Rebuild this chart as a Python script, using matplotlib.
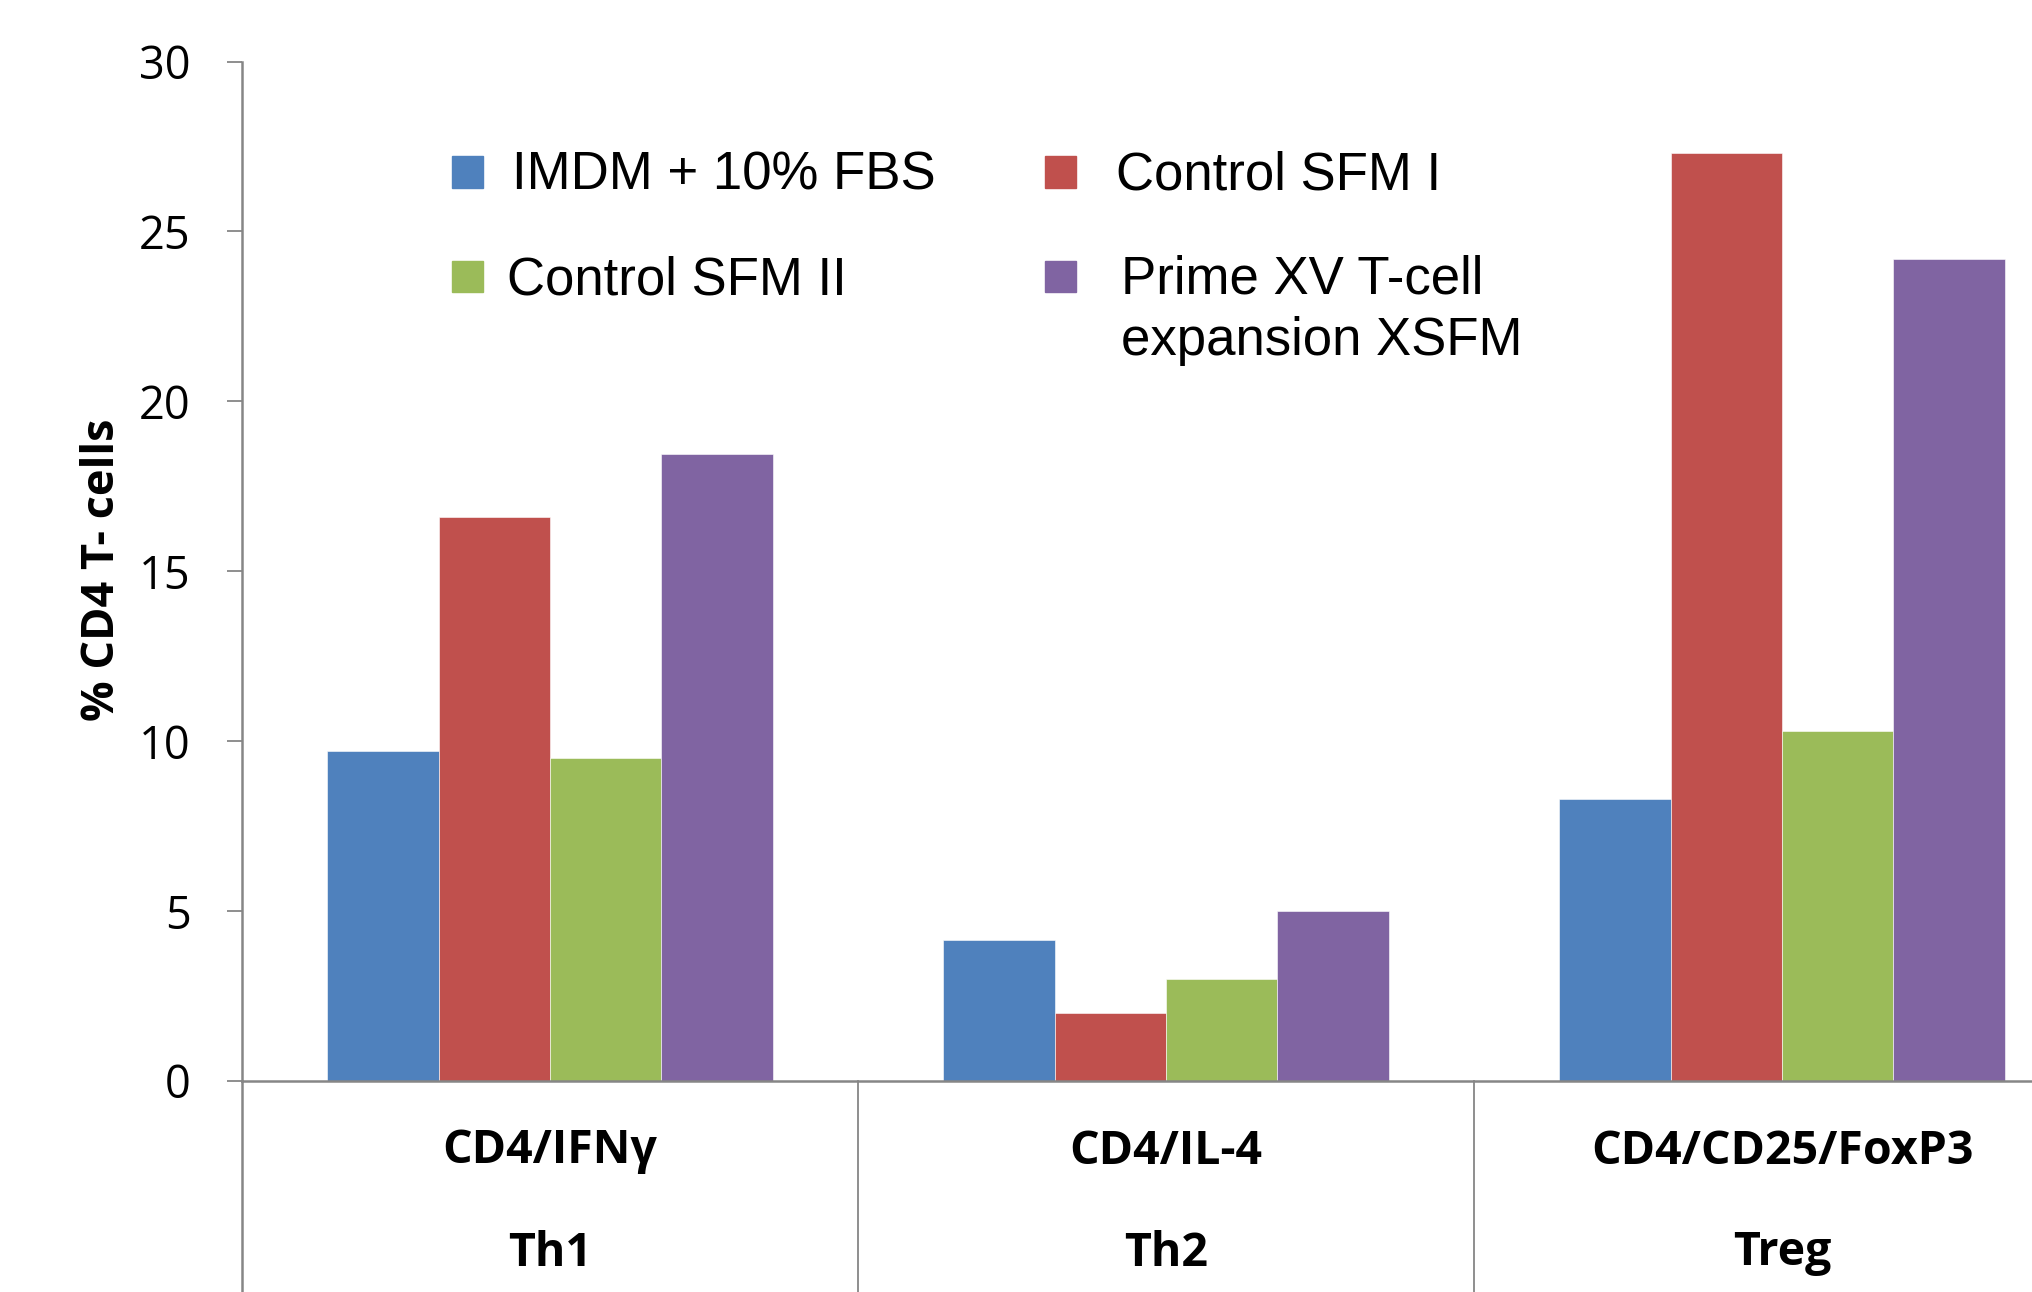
import matplotlib
matplotlib.use("Agg")
import matplotlib.pyplot as plt
from matplotlib.patches import Rectangle
import numpy as np

# Data
categories = ["CD4/IFNγ", "CD4/IL-4", "CD4/CD25/FoxP3"]
subsets = ["Th1", "Th2", "Treg"]
series_names = ["IMDM + 10% FBS", "Control SFM I", "Control SFM II",
                "Prime XV T-cell\nexpansion XSFM"]
imdm_fbs = [9.7, 4.15, 8.3]
control_sfm_1 = [16.6, 2.0, 27.3]
control_sfm_2 = [9.5, 3.0, 10.3]
prime_xv = [18.45, 5.0, 24.2]
y_ticks = [0, 5, 10, 15, 20, 25, 30]

colors = ["#4F81BD", "#C0504D", "#9BBB59", "#8064A2"]
series = [imdm_fbs, control_sfm_1, control_sfm_2, prime_xv]
axis_gray = "#868686"

W, H = 2033, 1292
fig = plt.figure(figsize=(W / 100, H / 100), dpi=100)

# axes: x from -0.5 to 2.5, right part runs past the figure edge
left_px, cat_px = 242, 616
base_px, top_px = 1081, 61.5
ax = fig.add_axes([left_px / W, (H - base_px) / H,
                   3 * cat_px / W, (base_px - top_px) / H])
ax.set_xlim(-0.5, 2.5)
ax.set_ylim(0, 30)

x = np.arange(len(categories))
bw = 0.181
for i, (vals, col) in enumerate(zip(series, colors)):
    ax.bar(x + (i - 1.5) * bw, vals, width=bw, color=col,
           edgecolor="white", linewidth=0.4, zorder=2)

for s in ["top", "right"]:
    ax.spines[s].set_visible(False)
for s in ["left", "bottom"]:
    ax.spines[s].set_color(axis_gray)
    ax.spines[s].set_linewidth(1.8)

ax.set_yticks(y_ticks)
ax.tick_params(axis="y", length=11, width=1.3, color=axis_gray, pad=26,
               labelsize=32.5)
for lab in ax.get_yticklabels():
    lab.set_fontfamily("Open Sans")
ax.set_xticks([])

# category separators running down to the figure bottom
trans = ax.get_xaxis_transform()
bottom_frac = -(H - base_px) / (base_px - top_px)
for xv in [-0.5, 0.5, 1.5]:
    ax.plot([xv, xv], [0, bottom_frac], transform=trans, color=axis_gray,
            lw=1.3 if xv > -0.5 else 1.8, clip_on=False)

# two-row category labels
row1 = -(1151 - base_px) / (base_px - top_px)
row2 = -(1253 - base_px) / (base_px - top_px)
for xi, cat, sub in zip(x, categories, subsets):
    ax.text(xi, row1, cat, transform=trans, ha="center", va="center",
            fontsize=33.5, fontweight="bold", family="Open Sans")
    ax.text(xi, row2, sub, transform=trans, ha="center", va="center",
            fontsize=33.5, fontweight="bold", family="Open Sans")

fig.text(103 / W, 1 - 570 / H, "% CD4 T- cells", rotation=90, ha="center",
         va="center", fontsize=32.5, fontweight="bold", family="Open Sans")

# legend drawn as patches and labels in figure pixels
sq = 31
legend_items = [
    (452, 172, 512, series_names[0], colors[0]),
    (1045, 172, 1116, series_names[1], colors[1]),
    (452, 276, 507, series_names[2], colors[2]),
    (1045, 276, 1121, series_names[3], colors[3]),
]
for sx, cy, tx, label, col in legend_items:
    fig.patches.append(Rectangle((sx / W, 1 - (cy + sq / 2) / H), sq / W, sq / H,
                                 transform=fig.transFigure, color=col))
    if "\n" in label:
        fig.text(tx / W, 1 - (cy - 21) / H, label, ha="left", va="top",
                 fontsize=38, family="Liberation Sans", linespacing=1.28)
    else:
        fig.text(tx / W, 1 - (cy + 4) / H, label, ha="left", va="center",
                 fontsize=38, family="Liberation Sans")

fig.savefig("out.png", dpi=100)
